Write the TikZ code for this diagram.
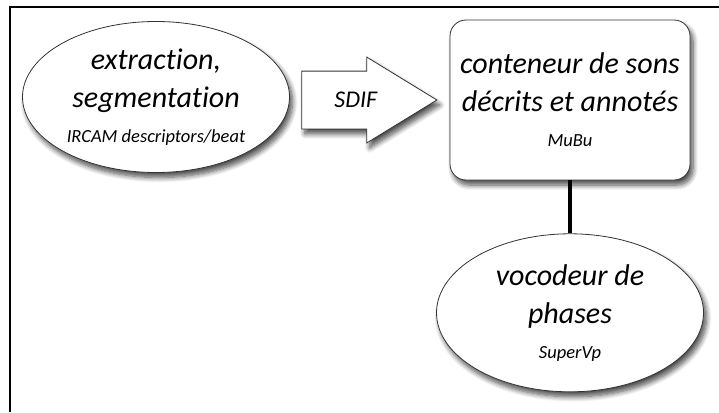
\documentclass[tikz,border=0pt]{standalone}
\usepackage{fontspec}
\setmainfont{Carlito}[Ligatures=NoCommon]
\usepackage{tikz}
\usetikzlibrary{shapes.geometric, shapes.arrows, shadows.blur, positioning}

\newcommand{\subtext}[1]{{\fontsize{18.5}{22}\selectfont #1}}

\begin{document}
\begin{tikzpicture}[x=1pt, y=-1pt,
    shade/.style={blur shadow={shadow xshift=3pt, shadow yshift=-5pt, shadow blur steps=8,
      shadow blur radius=5pt, shadow opacity=70}},
    bubble/.style={ellipse, draw=black!80, line width=0.8pt, fill=white, shade,
      inner xsep=-20pt, inner ysep=0pt, align=center, font=\itshape\fontsize{30}{38}\selectfont},
    holder/.style={rectangle, rounded corners=16pt, draw=black!80, line width=0.8pt, fill=white,
      shade, inner sep=0pt, align=center, font=\itshape\fontsize{30}{38}\selectfont},
    flow/.style={single arrow, draw=black!80, line width=0.8pt, fill=white, shade,
      single arrow head extend=14pt, single arrow tip angle=63, minimum height=135pt,
      text height=15pt, text depth=0pt, inner xsep=0pt, inner ysep=21pt,
      font=\itshape\fontsize{24}{26}\selectfont},
    link/.style={line width=3.5pt}]
  \useasboundingbox (0,0) rectangle (719,412);
  \draw[line width=2pt] (10,412) -- (10,7) -- (719,7);

  \node[bubble, minimum width=267pt, minimum height=151pt] (ext) at (156,97)
    {extraction,\\segmentation\\[-3pt]\subtext{IRCAM descriptors/beat}};
  \node[holder, minimum width=240pt, minimum height=160pt] (mubu) at (570,100)
    {conteneur de sons\\décrits et annotés\\[-3pt]\subtext{MuBu}};
  \node[flow, left=12pt of mubu] (sdif) {\hspace*{20pt}SDIF};
  \node[bubble, minimum width=267pt, minimum height=158pt, below=53pt of mubu] (svp)
    {vocodeur de\\phases\\[-3pt]\subtext{SuperVp}};

  \draw[link] (mubu) -- (svp);
\end{tikzpicture}
\end{document}
